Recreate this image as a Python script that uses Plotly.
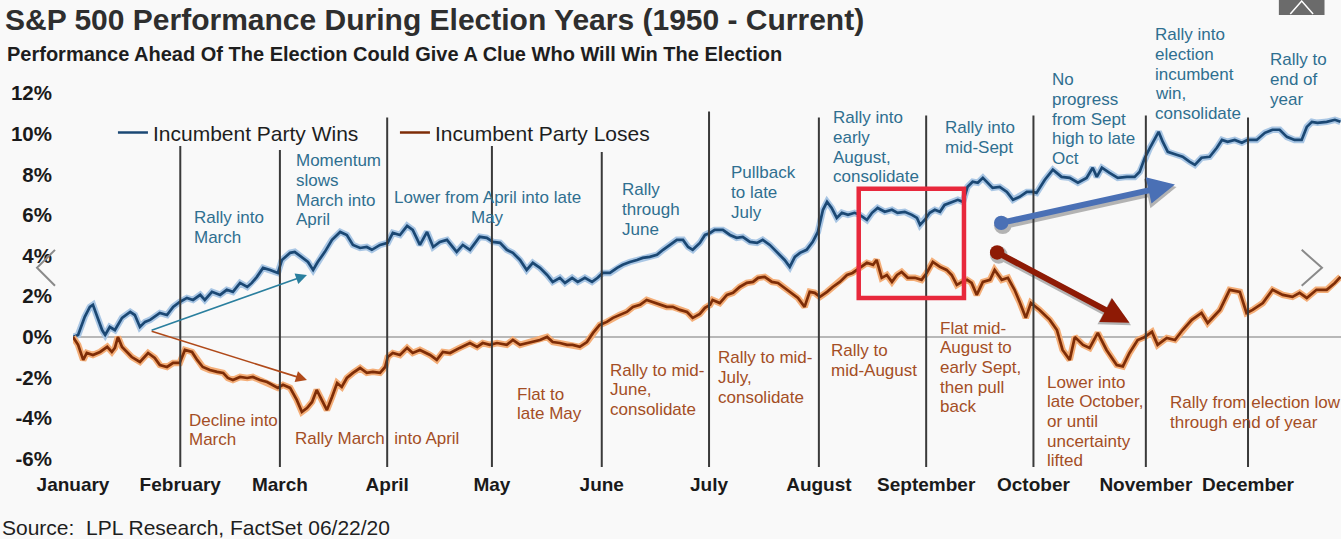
import plotly.graph_objects as go

# ---------------- data (x = trading day of the year, y = % performance) ----------------
months = ["January", "February", "March", "April", "May", "June", "July",
          "August", "September", "October", "November", "December"]
month_start = [0, 21, 40.5, 61.5, 82, 103.5, 124.5, 146, 167, 188, 210, 230]
divider_top = [None, 9.4, 9.2, 10.8, 9.4, 9.1, 11.1, 10.8, 10.9, 10.9, 10.9, 10.8]
y_ticks = [-6, -4, -2, 0, 2, 4, 6, 8, 10, 12]
y_tick_text = ["-6%", "-4%", "-2%", "0%", "2%", "4%", "6%", "8%", "10%", "12%"]

blue_day = [0, 1.0, 2.3, 3.3, 3.9, 4.7, 5.7, 6.3, 7.2, 8.2,
            9.6, 11.2, 12.1, 13.1, 14.1, 15.1, 16.0, 17.0, 18.4, 19.6,
            20.9, 22.3, 23.5, 24.9, 25.8, 27.2, 28.8, 30.1, 31.3, 32.7,
            34.1, 35.0, 36.0, 37.2, 38.6, 40.1, 40.9, 42.5, 43.4, 44.8,
            46.0, 47.0, 47.9, 49.3, 50.7, 52.3, 53.6, 54.8, 56.2, 57.5,
            58.5, 60.1, 61.6, 62.6, 64.0, 65.4, 66.5, 67.9, 69.3, 70.5,
            71.8, 73.2, 75.1, 76.3, 77.7, 79.6, 81.0, 82.2, 83.6, 84.9,
            86.1, 87.5, 88.8, 90.0, 91.4, 92.8, 93.9, 95.3, 96.3, 97.7,
            98.8, 100.2, 101.6, 102.7, 103.7, 105.1, 106.5, 107.6, 109.0, 110.4,
            111.5, 112.9, 114.3, 115.5, 116.8, 118.2, 119.4, 120.4, 121.3, 122.7,
            123.7, 124.7, 125.6, 127.2, 128.6, 129.9, 131.1, 132.5, 133.9, 135.0,
            136.4, 138.0, 139.3, 140.3, 141.3, 142.3, 143.6, 144.8, 145.8, 146.8,
            147.6, 148.5, 149.5, 150.5, 151.7, 153.0, 154.0, 155.4, 156.4, 157.5,
            158.9, 160.3, 161.4, 162.8, 164.2, 165.2, 165.8, 166.7, 167.7, 168.7,
            169.7, 170.6, 171.6, 173.2, 174.2, 175.1, 176.1, 177.1, 178.1, 179.1,
            180.0, 181.4, 182.8, 184.0, 185.3, 186.7, 187.9, 188.6, 190.2, 191.8,
            193.5, 195.1, 196.7, 198.4, 199.6, 200.4, 201.4, 202.9, 204.5, 206.3,
            207.8, 208.8, 209.8, 210.8, 211.7, 212.5, 213.3, 214.3, 216.0, 217.2,
            218.6, 219.6, 220.9, 222.5, 223.9, 224.9, 226.0, 227.4, 228.8, 229.9,
            231.7, 233.3, 234.8, 236.2, 237.6, 239.1, 240.5, 241.5, 242.5, 243.6,
            245.4, 247.0, 248.1]
blue_pct = [0.00, 0.10, 0.99, 1.48, 1.58, 0.99, 0.34, 0.10, 0.49, 0.34,
            0.94, 1.23, 1.08, 0.49, 0.74, 0.84, 0.99, 1.18, 1.08, 1.48,
            1.72, 1.92, 1.82, 2.07, 1.82, 2.22, 2.07, 2.32, 2.22, 2.66,
            2.46, 2.66, 2.96, 3.40, 3.30, 3.15, 3.79, 4.14, 4.19, 3.94,
            3.69, 3.30, 3.69, 4.19, 4.78, 5.17, 5.02, 4.53, 4.38, 4.43,
            4.29, 4.53, 4.63, 5.12, 5.02, 5.47, 5.27, 4.53, 5.17, 4.43,
            4.68, 4.78, 4.19, 4.53, 4.29, 4.93, 4.88, 4.68, 4.63, 4.29,
            4.14, 3.79, 3.30, 3.65, 3.40, 3.05, 2.71, 2.91, 2.66, 2.91,
            2.71, 2.91, 2.71, 2.91, 3.15, 3.15, 3.40, 3.55, 3.69, 3.79,
            3.89, 3.94, 4.04, 4.29, 4.53, 4.78, 4.78, 4.43, 4.29, 4.63,
            5.02, 5.12, 5.27, 5.27, 5.02, 4.88, 4.93, 4.68, 4.63, 4.78,
            4.53, 4.14, 3.79, 3.45, 3.94, 4.14, 4.29, 4.68, 5.17, 6.26,
            6.65, 6.35, 5.86, 6.11, 6.01, 6.11, 6.01, 5.76, 6.11, 6.35,
            6.16, 6.26, 6.11, 6.16, 6.01, 5.86, 5.52, 5.76, 6.11, 6.26,
            6.16, 6.50, 6.60, 6.75, 6.65, 7.39, 7.64, 7.59, 7.83, 7.59,
            7.34, 7.39, 7.14, 6.75, 6.90, 7.14, 7.14, 7.09, 7.73, 8.23,
            7.88, 7.83, 7.59, 7.83, 8.33, 7.88, 8.33, 8.08, 7.83, 7.88,
            7.88, 8.13, 8.82, 9.31, 9.70, 10.10, 9.61, 9.11, 8.97, 8.87,
            8.62, 8.47, 8.82, 8.87, 9.31, 9.70, 9.61, 9.70, 9.56, 9.70,
            9.70, 10.05, 10.20, 10.20, 9.85, 9.70, 9.70, 10.34, 10.59, 10.54,
            10.59, 10.69, 10.59]

orange_day = [0, 1.0, 2.0, 2.7, 3.9, 5.3, 6.7, 7.6, 8.2, 8.8,
              9.6, 10.6, 11.5, 13.1, 14.7, 16.0, 17.0, 18.4, 19.6, 20.9,
              21.9, 23.3, 24.3, 25.4, 26.8, 28.2, 29.4, 30.3, 31.3, 32.7,
              34.1, 35.2, 36.6, 38.0, 39.1, 40.1, 41.1, 42.5, 43.8, 44.8,
              45.8, 46.8, 47.7, 48.7, 49.7, 50.7, 51.7, 52.6, 53.6, 54.8,
              56.2, 57.5, 58.7, 60.1, 61.1, 61.6, 62.6, 64.0, 65.4, 66.5,
              67.9, 69.9, 71.2, 72.4, 73.8, 75.7, 77.7, 79.1, 80.2, 81.6,
              83.0, 84.9, 86.1, 87.5, 88.8, 90.0, 91.4, 92.8, 93.9, 95.3,
              96.7, 97.8, 99.2, 100.6, 101.8, 103.1, 104.5, 105.7, 107.0, 108.4,
              109.6, 111.0, 112.3, 113.5, 114.9, 116.2, 117.4, 118.8, 120.2, 121.3,
              122.7, 123.7, 124.7, 125.2, 126.6, 128.0, 129.2, 130.5, 131.9, 133.1,
              134.1, 135.4, 136.8, 138.0, 139.3, 140.7, 141.9, 143.2, 144.2, 145.2,
              146.2, 147.6, 148.7, 150.1, 151.5, 152.6, 154.0, 155.4, 156.6, 157.3,
              158.3, 159.3, 160.3, 161.3, 162.2, 163.4, 164.8, 166.1, 167.1, 168.3,
              169.7, 171.0, 172.0, 173.0, 174.0, 175.0, 175.9, 176.9, 178.1, 179.5,
              180.4, 181.8, 183.0, 184.3, 185.3, 186.5, 187.5, 189.2, 191.2, 192.6,
              193.7, 195.1, 196.1, 197.7, 199.0, 200.6, 202.3, 204.3, 205.5, 206.8,
              208.4, 209.8, 211.2, 212.3, 214.1, 215.7, 217.2, 219.0, 220.9, 222.1,
              224.5, 226.4, 228.4, 229.7, 230.9, 232.9, 234.8, 236.8, 238.7, 240.1,
              241.5, 243.4, 245.4, 247.0, 248.1]
orange_pct = [0.00, -0.39, -1.13, -0.79, -0.89, -0.74, -0.49, -0.74, -0.54, 0.00,
              -0.49, -0.74, -0.99, -1.23, -0.79, -1.03, -1.38, -1.48, -1.28, -1.28,
              -0.64, -0.74, -1.13, -1.48, -1.63, -1.72, -1.77, -2.02, -2.12, -1.97,
              -2.02, -1.97, -2.12, -2.22, -2.36, -2.51, -2.36, -2.51, -3.10, -3.69,
              -3.50, -3.20, -2.61, -3.10, -3.60, -2.96, -2.27, -2.46, -2.02, -1.77,
              -1.53, -1.77, -1.72, -1.77, -1.48, -0.99, -0.79, -0.89, -0.54, -0.79,
              -0.64, -0.89, -1.13, -0.74, -0.79, -0.54, -0.30, -0.49, -0.30, -0.39,
              -0.30, -0.39, -0.15, -0.39, -0.30, -0.25, -0.15, 0.00, -0.25, -0.30,
              -0.39, -0.39, -0.49, -0.25, 0.20, 0.59, 0.74, 0.94, 1.08, 1.23,
              1.48, 1.58, 1.82, 1.72, 1.58, 1.48, 1.48, 1.33, 1.23, 0.94,
              1.13, 1.43, 1.58, 1.82, 1.67, 2.07, 2.17, 2.46, 2.66, 2.71,
              2.91, 2.96, 2.71, 2.66, 2.41, 2.17, 1.92, 1.48, 2.22, 2.17,
              1.97, 2.22, 2.46, 2.71, 3.05, 3.15, 3.40, 3.65, 3.55, 3.79,
              2.91, 3.05, 2.71, 3.05, 3.20, 2.91, 2.91, 2.81, 3.15, 3.69,
              3.45, 3.30, 3.05, 2.56, 2.71, 2.81, 2.66, 2.07, 2.71, 2.81,
              3.30, 2.81, 2.91, 2.32, 1.72, 0.94, 1.67, 1.33, 0.84, 0.34,
              -0.64, -1.13, 0.00, -0.39, -0.54, 0.20, -0.64, -1.38, -1.45, -0.79,
              -0.15, 0.00, 0.25, -0.39, -0.05, -0.15, 0.34, 0.84, 1.18, 0.69,
              1.33, 2.32, 2.22, 1.18, 1.33, 1.67, 2.32, 2.07, 1.97, 2.17,
              1.92, 2.32, 2.32, 2.66, 2.96]

series_names = ["Incumbent Party Wins", "Incumbent Party Loses"]

# ---------------- styling ----------------
FONT = "Liberation Sans, Arial, sans-serif"
BG = "#f9f9f9"
BLUE_CORE, BLUE_HALO = "#1b4874", "#a9c6e4"
ORNG_CORE, ORNG_HALO = "#7e2d07", "#f4ae78"
BLUE_TXT, ORNG_TXT = "#2f6f90", "#a44e25"
Y_MIN, Y_MAX = -6.6, 12.6
LINE_STEP = 0.97  # vertical spacing of annotation lines, in % units


def y_paper(v):
    """value on the % axis -> paper fraction (lets notes sit above the plot area)"""
    return (v - Y_MIN) / (Y_MAX - Y_MIN)


fig = go.Figure()
fig.add_trace(go.Scatter(x=blue_day, y=blue_pct, mode="lines", showlegend=False,
                         hoverinfo="skip", line=dict(color=BLUE_HALO, width=6.5)))
fig.add_trace(go.Scatter(x=blue_day, y=blue_pct, mode="lines", name=series_names[0],
                         line=dict(color=BLUE_CORE, width=2.7)))
fig.add_trace(go.Scatter(x=orange_day, y=orange_pct, mode="lines", showlegend=False,
                         hoverinfo="skip", line=dict(color=ORNG_HALO, width=6.5)))
fig.add_trace(go.Scatter(x=orange_day, y=orange_pct, mode="lines", name=series_names[1],
                         line=dict(color=ORNG_CORE, width=2.7)))

shapes = []
for ms, top in zip(month_start, divider_top):
    if top is None:
        continue
    shapes.append(dict(type="line", xref="x", yref="y", x0=ms, x1=ms, y0=-6.4, y1=top,
                       line=dict(color="#3a3a3a", width=2), layer="above"))
# red highlight box
shapes.append(dict(type="rect", xref="x", yref="y", x0=153.8, x1=174.4, y0=1.92, y1=7.29,
                   line=dict(color="#e8283c", width=4.5), layer="above"))
# image-viewer chevrons / button
shapes.append(dict(type="path", xref="paper", yref="paper",
                   path="M -0.0142,0.567 L -0.0284,0.521 L -0.0142,0.475",
                   line=dict(color="#8a8a8a", width=2)))
shapes.append(dict(type="path", xref="paper", yref="paper",
                   path="M 0.969,0.567 L 0.985,0.521 L 0.969,0.475",
                   line=dict(color="#8a8a8a", width=2)))
shapes.append(dict(type="rect", xref="paper", yref="paper", x0=0.951, x1=0.987, y0=1.169, y1=1.215,
                   fillcolor="#6b6b6b", line=dict(width=0)))
shapes.append(dict(type="path", xref="paper", yref="paper",
                   path="M 0.960,1.172 L 0.969,1.205 L 0.978,1.172",
                   line=dict(color="#ffffff", width=1.5)))

ann = []
def note(lines, x, y_first, color, anchor="left"):
    for i, t in enumerate(lines):
        ann.append(dict(text=t, x=x, y=y_paper(y_first - i * LINE_STEP), xref="x", yref="paper",
                        xanchor=anchor, yanchor="middle", showarrow=False,
                        font=dict(family=FONT, size=17, color=color)))

note(["Rally into", "March"], 23.3, 5.86, BLUE_TXT)
note(["Momentum", "slows", "March into", "April"], 43.2, 8.67, BLUE_TXT)
note(["Lower from April into late", "May"], 81.2, 6.85, BLUE_TXT, anchor="center")
note(["Rally", "through", "June"], 107.0, 7.24, BLUE_TXT)
note(["Pullback", "to late", "July"], 128.4, 8.08, BLUE_TXT)
note(["Rally into", "early", "August,", "consolidate"], 148.3, 10.79, BLUE_TXT)
note(["Rally into", "mid-Sept"], 170.3, 10.30, BLUE_TXT)
note(["No", "progress", "from Sept", "high to late", "Oct"], 191.2, 12.66, BLUE_TXT)
note(["Rally into", "election", "incumbent", "win,", "consolidate"], 211.4, 14.88, BLUE_TXT)
note(["Rally to", "end of", "year"], 233.9, 13.65, BLUE_TXT)

note(["Decline into", "March"], 22.3, -4.09, ORNG_TXT)
note(["Rally March\u00a0 into April"], 43.1, -4.98, ORNG_TXT)
note(["Flat to", "late May"], 86.5, -2.81, ORNG_TXT)
note(["Rally to mid-", "June,", "consolidate"], 104.7, -1.63, ORNG_TXT)
note(["Rally to mid-", "July,", "consolidate"], 125.8, -1.03, ORNG_TXT)
note(["Rally to", "mid-August"], 147.9, -0.69, ORNG_TXT)
note(["Flat mid-", "August to", "early Sept,", "then pull", "back"], 169.3, 0.44, ORNG_TXT)
note(["Lower into", "late October,", "or until", "uncertainty", "lifted"], 190.2, -2.22, ORNG_TXT)
note(["Rally from election low", "through end of year"], 214.3, -3.25, ORNG_TXT)

# thin arrows
for hx, hy, col in [(45.8, 3.05, "#2a7f9e"), (45.8, -2.12, "#b04a1a")]:
    ann.append(dict(x=hx, y=hy, ax=15.1, ay=0.3, xref="x", yref="y", axref="x", ayref="y",
                    text="", showarrow=True, arrowhead=2, arrowsize=1.4, arrowwidth=1.6,
                    arrowcolor=col, standoff=0))
# thick arrows with soft shadows
for (hx, hy, tx, ty, col) in [(215.7, 7.5, 181.4, 5.6, "#4a70b5"),
                              (206.8, 0.7, 180.6, 4.2, "#8e1a05")]:
    ann.append(dict(x=hx + 0.3, y=hy - 0.12, ax=tx + 0.3, ay=ty - 0.12, xref="x", yref="y",
                    axref="x", ayref="y", text="", showarrow=True, arrowhead=2, arrowsize=0.75,
                    arrowwidth=8, arrowcolor="#333333", opacity=0.35, standoff=0,
                    arrowside="end+start", startarrowhead=6, startarrowsize=0.55))
    ann.append(dict(x=hx, y=hy, ax=tx, ay=ty, xref="x", yref="y", axref="x", ayref="y",
                    text="", showarrow=True, arrowhead=2, arrowsize=0.9, arrowwidth=6,
                    arrowcolor=col, standoff=0,
                    arrowside="end+start", startarrowhead=6, startarrowsize=0.6))

# subtitle and source
ann.append(dict(text="Performance Ahead Of The Election Could Give A Clue Who Will Win The Election",
                xref="paper", yref="paper", x=-0.0536, y=1.069, xanchor="left", yanchor="middle",
                showarrow=False, font=dict(family=FONT, size=20, color="#1e1e1e", weight="bold")))
ann.append(dict(text="Source:  LPL Research, FactSet 06/22/20",
                xref="paper", yref="paper", x=-0.0575, y=-0.146, xanchor="left", yanchor="middle",
                showarrow=False, font=dict(family=FONT, size=21, color="#1e1e1e")))

fig.update_layout(
    width=1341, height=539, autosize=False,
    margin=dict(l=73, r=0, t=81, b=68),
    paper_bgcolor=BG, plot_bgcolor=BG,
    font=dict(family=FONT, color="#1e1e1e"),
    title=dict(text="S&P 500 Performance During Election Years (1950 - Current)",
               xref="container", yref="container", x=0.0037, xanchor="left",
               y=0.963, yanchor="middle",
               font=dict(family=FONT, size=30, color="#2e2e2e", weight="bold")),
    showlegend=True,
    legend=dict(orientation="h", x=0.0315, y=0.867, xanchor="left", yanchor="middle",
                bgcolor="rgba(0,0,0,0)", font=dict(family=FONT, size=21, color="#1e1e1e"),
                entrywidth=237, entrywidthmode="pixels", traceorder="normal"),
    shapes=shapes, annotations=ann,
    xaxis=dict(range=[0, 248.2], tickvals=month_start, ticktext=months, showgrid=False,
               zeroline=False, showline=False, ticks="",
               tickfont=dict(family=FONT, size=19, color="#1a1a1a", weight="bold")),
    yaxis=dict(range=[Y_MIN, Y_MAX], tickvals=y_ticks, ticktext=y_tick_text, showgrid=False,
               zeroline=True, zerolinecolor="#b8b8b8", zerolinewidth=1.5, showline=False,
               ticks="", ticklabelstandoff=20,
               tickfont=dict(family=FONT, size=20.5, color="#1a1a1a", weight="bold")),
)

fig.write_html("out.html", config={"displayModeBar": False},
               post_script="document.body.style.margin='0';document.body.style.overflow='hidden';")
